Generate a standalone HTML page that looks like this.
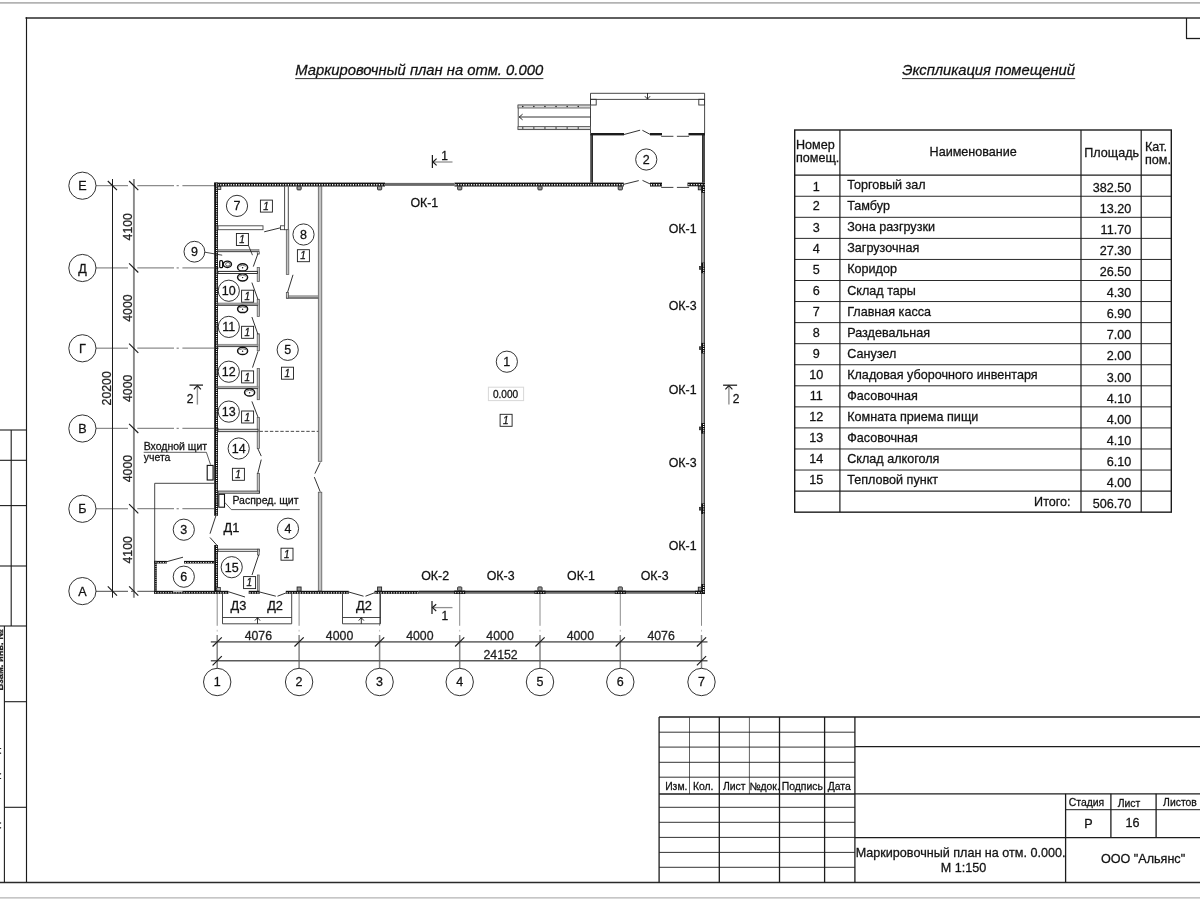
<!DOCTYPE html>
<html><head><meta charset="utf-8"><title>Маркировочный план</title>
<style>
html,body{margin:0;padding:0;background:#fff;}
body{width:1200px;height:900px;overflow:hidden;font-family:"Liberation Sans",sans-serif;}
svg{display:block;font-family:"Liberation Sans",sans-serif;will-change:transform;}
text{stroke:#222;stroke-width:0.28px;paint-order:stroke fill;}
</style></head><body>
<svg width="1200" height="900" viewBox="0 0 1200 900">
<rect x="0" y="0" width="1200" height="900" fill="#ffffff"/>
<line x1="0.00" y1="2.80" x2="1200.00" y2="2.80" stroke="#b3b3b3" stroke-width="1.7" />
<line x1="0.00" y1="897.80" x2="1200.00" y2="897.80" stroke="#b3b3b3" stroke-width="1.3" />
<line x1="25.50" y1="18.00" x2="1200.00" y2="18.00" stroke="#2a2a2a" stroke-width="1.6" />
<line x1="26.50" y1="17.30" x2="26.50" y2="882.40" stroke="#1a1a1a" stroke-width="1.15" />
<line x1="0.00" y1="882.40" x2="1200.00" y2="882.40" stroke="#2a2a2a" stroke-width="1.5" />
<line x1="1186.50" y1="18.00" x2="1186.50" y2="38.50" stroke="#1c1c1c" stroke-width="1.2" />
<line x1="1186.00" y1="38.50" x2="1200.00" y2="38.50" stroke="#1c1c1c" stroke-width="1.3" />
<line x1="0.00" y1="430.00" x2="26.50" y2="430.00" stroke="#1c1c1c" stroke-width="1.1" />
<line x1="0.00" y1="460.30" x2="26.50" y2="460.30" stroke="#1c1c1c" stroke-width="1.1" />
<line x1="0.00" y1="505.60" x2="26.50" y2="505.60" stroke="#1c1c1c" stroke-width="1.1" />
<line x1="0.00" y1="566.00" x2="26.50" y2="566.00" stroke="#1c1c1c" stroke-width="1.1" />
<line x1="0.00" y1="626.00" x2="26.50" y2="626.00" stroke="#1c1c1c" stroke-width="1.1" />
<line x1="11.20" y1="430.00" x2="11.20" y2="626.00" stroke="#1c1c1c" stroke-width="1.1" />
<line x1="4.40" y1="626.00" x2="4.40" y2="882.40" stroke="#1c1c1c" stroke-width="1.1" />
<line x1="4.40" y1="701.70" x2="26.50" y2="701.70" stroke="#1c1c1c" stroke-width="1.1" />
<line x1="4.40" y1="807.30" x2="26.50" y2="807.30" stroke="#1c1c1c" stroke-width="1.1" />
<text transform="translate(2.8,660) rotate(-90)" font-size="9.3" font-weight="bold" text-anchor="middle" fill="#222">Взам. инв. №</text>
<text transform="translate(-0.6,762) rotate(-90)" font-size="10" text-anchor="middle" fill="#222">Подп. и дата</text>
<text transform="translate(-0.6,845) rotate(-90)" font-size="10" text-anchor="middle" fill="#222">Инв. № подл.</text>
<text x="988.60" y="75.20" font-size="14.75" text-anchor="middle" fill="#111" font-style="italic" >Экспликация помещений</text>
<line x1="902.00" y1="78.60" x2="1075.20" y2="78.60" stroke="#333" stroke-width="1" />
<line x1="794.70" y1="196.26" x2="1171.30" y2="196.26" stroke="#2a2a2a" stroke-width="1.0" />
<line x1="794.70" y1="217.32" x2="1171.30" y2="217.32" stroke="#2a2a2a" stroke-width="1.0" />
<line x1="794.70" y1="238.38" x2="1171.30" y2="238.38" stroke="#2a2a2a" stroke-width="1.0" />
<line x1="794.70" y1="259.44" x2="1171.30" y2="259.44" stroke="#2a2a2a" stroke-width="1.0" />
<line x1="794.70" y1="280.50" x2="1171.30" y2="280.50" stroke="#2a2a2a" stroke-width="1.0" />
<line x1="794.70" y1="301.56" x2="1171.30" y2="301.56" stroke="#2a2a2a" stroke-width="1.0" />
<line x1="794.70" y1="322.62" x2="1171.30" y2="322.62" stroke="#2a2a2a" stroke-width="1.0" />
<line x1="794.70" y1="343.68" x2="1171.30" y2="343.68" stroke="#2a2a2a" stroke-width="1.0" />
<line x1="794.70" y1="364.74" x2="1171.30" y2="364.74" stroke="#2a2a2a" stroke-width="1.0" />
<line x1="794.70" y1="385.80" x2="1171.30" y2="385.80" stroke="#2a2a2a" stroke-width="1.0" />
<line x1="794.70" y1="406.86" x2="1171.30" y2="406.86" stroke="#2a2a2a" stroke-width="1.0" />
<line x1="794.70" y1="427.92" x2="1171.30" y2="427.92" stroke="#2a2a2a" stroke-width="1.0" />
<line x1="794.70" y1="448.98" x2="1171.30" y2="448.98" stroke="#2a2a2a" stroke-width="1.0" />
<line x1="794.70" y1="470.04" x2="1171.30" y2="470.04" stroke="#2a2a2a" stroke-width="1.0" />
<line x1="794.70" y1="491.10" x2="1171.30" y2="491.10" stroke="#2a2a2a" stroke-width="1.2" />
<line x1="794.70" y1="175.20" x2="1171.30" y2="175.20" stroke="#1c1c1c" stroke-width="1.3" />
<line x1="839.90" y1="130.00" x2="839.90" y2="512.16" stroke="#1c1c1c" stroke-width="1.2" />
<line x1="1081.00" y1="130.00" x2="1081.00" y2="512.16" stroke="#1c1c1c" stroke-width="1.2" />
<line x1="1141.20" y1="130.00" x2="1141.20" y2="512.16" stroke="#1c1c1c" stroke-width="1.2" />
<rect x="794.70" y="130.00" width="376.60" height="382.16" fill="none" stroke="#1c1c1c" stroke-width="1.4" />
<text x="796.00" y="148.60" font-size="12.6" text-anchor="start" fill="#111"  >Номер</text>
<text x="796.00" y="161.60" font-size="12.6" text-anchor="start" fill="#111"  >помещ.</text>
<text x="973.20" y="156.40" font-size="12.6" text-anchor="middle" fill="#111"  >Наименование</text>
<text x="1084.30" y="157.00" font-size="12.6" text-anchor="start" fill="#111"  >Площадь</text>
<text x="1145.00" y="151.40" font-size="12.6" text-anchor="start" fill="#111"  >Кат.</text>
<text x="1145.00" y="164.40" font-size="12.6" text-anchor="start" fill="#111"  >пом.</text>
<text x="816.20" y="190.70" font-size="12.6" text-anchor="middle" fill="#111"  >1</text>
<text x="847.20" y="189.20" font-size="12.6" text-anchor="start" fill="#111"  >Торговый зал</text>
<text x="1131.20" y="192.00" font-size="12.6" text-anchor="end" fill="#111"  >382.50</text>
<text x="816.20" y="210.46" font-size="12.6" text-anchor="middle" fill="#111"  >2</text>
<text x="847.20" y="210.26" font-size="12.6" text-anchor="start" fill="#111"  >Тамбур</text>
<text x="1131.20" y="213.06" font-size="12.6" text-anchor="end" fill="#111"  >13.20</text>
<text x="816.20" y="231.52" font-size="12.6" text-anchor="middle" fill="#111"  >3</text>
<text x="847.20" y="231.32" font-size="12.6" text-anchor="start" fill="#111"  >Зона разгрузки</text>
<text x="1131.20" y="234.12" font-size="12.6" text-anchor="end" fill="#111"  >11.70</text>
<text x="816.20" y="252.58" font-size="12.6" text-anchor="middle" fill="#111"  >4</text>
<text x="847.20" y="252.38" font-size="12.6" text-anchor="start" fill="#111"  >Загрузочная</text>
<text x="1131.20" y="255.18" font-size="12.6" text-anchor="end" fill="#111"  >27.30</text>
<text x="816.20" y="273.64" font-size="12.6" text-anchor="middle" fill="#111"  >5</text>
<text x="847.20" y="273.44" font-size="12.6" text-anchor="start" fill="#111"  >Коридор</text>
<text x="1131.20" y="276.24" font-size="12.6" text-anchor="end" fill="#111"  >26.50</text>
<text x="816.20" y="294.70" font-size="12.6" text-anchor="middle" fill="#111"  >6</text>
<text x="847.20" y="294.50" font-size="12.6" text-anchor="start" fill="#111"  >Склад тары</text>
<text x="1131.20" y="297.30" font-size="12.6" text-anchor="end" fill="#111"  >4.30</text>
<text x="816.20" y="315.76" font-size="12.6" text-anchor="middle" fill="#111"  >7</text>
<text x="847.20" y="315.56" font-size="12.6" text-anchor="start" fill="#111"  >Главная касса</text>
<text x="1131.20" y="318.36" font-size="12.6" text-anchor="end" fill="#111"  >6.90</text>
<text x="816.20" y="336.82" font-size="12.6" text-anchor="middle" fill="#111"  >8</text>
<text x="847.20" y="336.62" font-size="12.6" text-anchor="start" fill="#111"  >Раздевальная</text>
<text x="1131.20" y="339.42" font-size="12.6" text-anchor="end" fill="#111"  >7.00</text>
<text x="816.20" y="357.88" font-size="12.6" text-anchor="middle" fill="#111"  >9</text>
<text x="847.20" y="357.68" font-size="12.6" text-anchor="start" fill="#111"  >Санузел</text>
<text x="1131.20" y="360.48" font-size="12.6" text-anchor="end" fill="#111"  >2.00</text>
<text x="816.20" y="378.94" font-size="12.6" text-anchor="middle" fill="#111"  >10</text>
<text x="847.20" y="378.74" font-size="12.6" text-anchor="start" fill="#111"  >Кладовая уборочного инвентаря</text>
<text x="1131.20" y="381.54" font-size="12.6" text-anchor="end" fill="#111"  >3.00</text>
<text x="816.20" y="400.00" font-size="12.6" text-anchor="middle" fill="#111"  >11</text>
<text x="847.20" y="399.80" font-size="12.6" text-anchor="start" fill="#111"  >Фасовочная</text>
<text x="1131.20" y="402.60" font-size="12.6" text-anchor="end" fill="#111"  >4.10</text>
<text x="816.20" y="421.06" font-size="12.6" text-anchor="middle" fill="#111"  >12</text>
<text x="847.20" y="420.86" font-size="12.6" text-anchor="start" fill="#111"  >Комната приема пищи</text>
<text x="1131.20" y="423.66" font-size="12.6" text-anchor="end" fill="#111"  >4.00</text>
<text x="816.20" y="442.12" font-size="12.6" text-anchor="middle" fill="#111"  >13</text>
<text x="847.20" y="441.92" font-size="12.6" text-anchor="start" fill="#111"  >Фасовочная</text>
<text x="1131.20" y="444.72" font-size="12.6" text-anchor="end" fill="#111"  >4.10</text>
<text x="816.20" y="463.18" font-size="12.6" text-anchor="middle" fill="#111"  >14</text>
<text x="847.20" y="462.98" font-size="12.6" text-anchor="start" fill="#111"  >Склад алкоголя</text>
<text x="1131.20" y="465.78" font-size="12.6" text-anchor="end" fill="#111"  >6.10</text>
<text x="816.20" y="484.24" font-size="12.6" text-anchor="middle" fill="#111"  >15</text>
<text x="847.20" y="484.04" font-size="12.6" text-anchor="start" fill="#111"  >Тепловой пункт</text>
<text x="1131.20" y="486.84" font-size="12.6" text-anchor="end" fill="#111"  >4.00</text>
<text x="1070.60" y="505.70" font-size="12.6" text-anchor="end" fill="#111"  >Итого:</text>
<text x="1131.20" y="508.10" font-size="12.6" text-anchor="end" fill="#111"  >506.70</text>
<line x1="659.10" y1="717.00" x2="1200.00" y2="717.00" stroke="#1c1c1c" stroke-width="1.4" />
<line x1="659.10" y1="717.00" x2="659.10" y2="882.40" stroke="#1c1c1c" stroke-width="1.3" />
<line x1="689.50" y1="717.00" x2="689.50" y2="794.00" stroke="#3a3a3a" stroke-width="0.8" />
<line x1="719.30" y1="717.00" x2="719.30" y2="882.40" stroke="#1c1c1c" stroke-width="1.3" />
<line x1="749.40" y1="717.00" x2="749.40" y2="794.00" stroke="#3a3a3a" stroke-width="0.8" />
<line x1="779.50" y1="717.00" x2="779.50" y2="882.40" stroke="#1c1c1c" stroke-width="1.3" />
<line x1="824.60" y1="717.00" x2="824.60" y2="882.40" stroke="#1c1c1c" stroke-width="1.3" />
<line x1="854.90" y1="717.00" x2="854.90" y2="882.40" stroke="#1c1c1c" stroke-width="1.3" />
<line x1="659.10" y1="732.20" x2="854.90" y2="732.20" stroke="#1c1c1c" stroke-width="0.9" />
<line x1="659.10" y1="747.10" x2="854.90" y2="747.10" stroke="#1c1c1c" stroke-width="0.9" />
<line x1="659.10" y1="762.30" x2="854.90" y2="762.30" stroke="#1c1c1c" stroke-width="0.9" />
<line x1="659.10" y1="777.20" x2="854.90" y2="777.20" stroke="#1c1c1c" stroke-width="0.9" />
<line x1="659.10" y1="794.00" x2="854.90" y2="794.00" stroke="#1c1c1c" stroke-width="1.3" />
<line x1="659.10" y1="807.30" x2="854.90" y2="807.30" stroke="#1c1c1c" stroke-width="0.9" />
<line x1="659.10" y1="822.30" x2="854.90" y2="822.30" stroke="#1c1c1c" stroke-width="0.9" />
<line x1="659.10" y1="837.40" x2="854.90" y2="837.40" stroke="#1c1c1c" stroke-width="0.9" />
<line x1="659.10" y1="852.40" x2="854.90" y2="852.40" stroke="#1c1c1c" stroke-width="0.9" />
<line x1="659.10" y1="867.30" x2="854.90" y2="867.30" stroke="#1c1c1c" stroke-width="0.9" />
<line x1="854.90" y1="746.70" x2="1200.00" y2="746.70" stroke="#1c1c1c" stroke-width="1.3" />
<line x1="854.90" y1="793.80" x2="1200.00" y2="793.80" stroke="#1c1c1c" stroke-width="1.3" />
<line x1="854.90" y1="837.70" x2="1200.00" y2="837.70" stroke="#1c1c1c" stroke-width="1.3" />
<line x1="1065.60" y1="809.70" x2="1200.00" y2="809.70" stroke="#1c1c1c" stroke-width="1.0" />
<line x1="1065.60" y1="793.80" x2="1065.60" y2="882.40" stroke="#1c1c1c" stroke-width="1.3" />
<line x1="1110.90" y1="793.80" x2="1110.90" y2="837.70" stroke="#1c1c1c" stroke-width="1.3" />
<line x1="1156.10" y1="793.80" x2="1156.10" y2="837.70" stroke="#1c1c1c" stroke-width="1.3" />
<text x="676.30" y="789.80" font-size="10.4" text-anchor="middle" fill="#111"  >Изм.</text>
<text x="703.20" y="789.80" font-size="10.4" text-anchor="middle" fill="#111"  >Кол.</text>
<text x="734.30" y="789.80" font-size="10.4" text-anchor="middle" fill="#111"  >Лист</text>
<text x="764.60" y="789.80" font-size="10.4" text-anchor="middle" fill="#111"  >№док.</text>
<text x="802.30" y="790.20" font-size="10.4" text-anchor="middle" fill="#111"  >Подпись</text>
<text x="839.20" y="790.20" font-size="10.4" text-anchor="middle" fill="#111"  >Дата</text>
<text x="1086.50" y="806.00" font-size="10.4" text-anchor="middle" fill="#111"  >Стадия</text>
<text x="1129.00" y="806.60" font-size="10.4" text-anchor="middle" fill="#111"  >Лист</text>
<text x="1180.00" y="805.80" font-size="10.4" text-anchor="middle" fill="#111"  >Листов</text>
<text x="1088.50" y="827.60" font-size="12.6" text-anchor="middle" fill="#111"  >Р</text>
<text x="1132.50" y="827.20" font-size="12.6" text-anchor="middle" fill="#111"  >16</text>
<text x="960.60" y="857.00" font-size="12.6" text-anchor="middle" fill="#111"  >Маркировочный план на отм. 0.000.</text>
<text x="963.50" y="871.80" font-size="12.6" text-anchor="middle" fill="#111"  >М 1:150</text>
<text x="1143.00" y="862.60" font-size="12.6" text-anchor="middle" fill="#111"  >ООО "Альянс"</text>
<text x="419.20" y="75.20" font-size="14.8" text-anchor="middle" fill="#111" font-style="italic" >Маркировочный план на отм. 0.000</text>
<line x1="295.20" y1="78.60" x2="543.40" y2="78.60" stroke="#333" stroke-width="1" />
<line x1="96.00" y1="185.60" x2="128.00" y2="185.60" stroke="#8c8c8c" stroke-width="1.25" />
<line x1="137.30" y1="185.60" x2="174.00" y2="185.60" stroke="#8c8c8c" stroke-width="1.25" />
<line x1="176.60" y1="185.60" x2="178.80" y2="185.60" stroke="#8c8c8c" stroke-width="1.25" />
<line x1="182.40" y1="185.60" x2="214.20" y2="185.60" stroke="#8c8c8c" stroke-width="1.25" />
<circle cx="82.40" cy="185.70" r="13.60" fill="none" stroke="#1c1c1c" stroke-width="0.9"/>
<text x="82.40" y="190.20" font-size="12.6" text-anchor="middle" fill="#111"  >Е</text>
<line x1="96.00" y1="267.90" x2="128.00" y2="267.90" stroke="#8c8c8c" stroke-width="1.25" />
<line x1="137.30" y1="267.90" x2="174.00" y2="267.90" stroke="#8c8c8c" stroke-width="1.25" />
<line x1="176.60" y1="267.90" x2="178.80" y2="267.90" stroke="#8c8c8c" stroke-width="1.25" />
<line x1="182.40" y1="267.90" x2="214.20" y2="267.90" stroke="#8c8c8c" stroke-width="1.25" />
<circle cx="82.40" cy="268.00" r="13.60" fill="none" stroke="#1c1c1c" stroke-width="0.9"/>
<text x="82.40" y="272.50" font-size="12.6" text-anchor="middle" fill="#111"  >Д</text>
<line x1="96.00" y1="348.20" x2="128.00" y2="348.20" stroke="#8c8c8c" stroke-width="1.25" />
<line x1="137.30" y1="348.20" x2="174.00" y2="348.20" stroke="#8c8c8c" stroke-width="1.25" />
<line x1="176.60" y1="348.20" x2="178.80" y2="348.20" stroke="#8c8c8c" stroke-width="1.25" />
<line x1="182.40" y1="348.20" x2="214.20" y2="348.20" stroke="#8c8c8c" stroke-width="1.25" />
<circle cx="82.40" cy="348.30" r="13.60" fill="none" stroke="#1c1c1c" stroke-width="0.9"/>
<text x="82.40" y="352.80" font-size="12.6" text-anchor="middle" fill="#111"  >Г</text>
<line x1="96.00" y1="428.40" x2="128.00" y2="428.40" stroke="#8c8c8c" stroke-width="1.25" />
<line x1="137.30" y1="428.40" x2="174.00" y2="428.40" stroke="#8c8c8c" stroke-width="1.25" />
<line x1="176.60" y1="428.40" x2="178.80" y2="428.40" stroke="#8c8c8c" stroke-width="1.25" />
<line x1="182.40" y1="428.40" x2="214.20" y2="428.40" stroke="#8c8c8c" stroke-width="1.25" />
<circle cx="82.40" cy="428.50" r="13.60" fill="none" stroke="#1c1c1c" stroke-width="0.9"/>
<text x="82.40" y="433.00" font-size="12.6" text-anchor="middle" fill="#111"  >В</text>
<line x1="96.00" y1="508.70" x2="128.00" y2="508.70" stroke="#8c8c8c" stroke-width="1.25" />
<line x1="137.30" y1="508.70" x2="174.00" y2="508.70" stroke="#8c8c8c" stroke-width="1.25" />
<line x1="176.60" y1="508.70" x2="178.80" y2="508.70" stroke="#8c8c8c" stroke-width="1.25" />
<line x1="182.40" y1="508.70" x2="214.20" y2="508.70" stroke="#8c8c8c" stroke-width="1.25" />
<circle cx="82.40" cy="508.80" r="13.60" fill="none" stroke="#1c1c1c" stroke-width="0.9"/>
<text x="82.40" y="513.30" font-size="12.6" text-anchor="middle" fill="#111"  >Б</text>
<line x1="96.00" y1="591.30" x2="128.00" y2="591.30" stroke="#4a4a4a" stroke-width="1.0" />
<line x1="131.00" y1="591.30" x2="135.00" y2="591.30" stroke="#4a4a4a" stroke-width="1.0" />
<line x1="137.30" y1="591.30" x2="154.50" y2="591.30" stroke="#4a4a4a" stroke-width="1.0" />
<circle cx="82.40" cy="591.10" r="13.60" fill="none" stroke="#1c1c1c" stroke-width="0.9"/>
<text x="82.40" y="595.60" font-size="12.6" text-anchor="middle" fill="#111"  >А</text>
<line x1="112.50" y1="179.00" x2="112.50" y2="597.70" stroke="#1c1c1c" stroke-width="1.0" />
<line x1="133.90" y1="179.00" x2="133.90" y2="597.70" stroke="#8a8a8a" stroke-width="1.9" />
<line x1="129.10" y1="181.00" x2="138.30" y2="190.20" stroke="#1a1a1a" stroke-width="1.15" />
<line x1="129.10" y1="263.30" x2="138.30" y2="272.50" stroke="#1a1a1a" stroke-width="1.15" />
<line x1="129.10" y1="343.60" x2="138.30" y2="352.80" stroke="#1a1a1a" stroke-width="1.15" />
<line x1="129.10" y1="423.80" x2="138.30" y2="433.00" stroke="#1a1a1a" stroke-width="1.15" />
<line x1="129.10" y1="504.10" x2="138.30" y2="513.30" stroke="#1a1a1a" stroke-width="1.15" />
<line x1="129.10" y1="586.40" x2="138.30" y2="595.60" stroke="#1a1a1a" stroke-width="1.15" />
<line x1="107.80" y1="181.00" x2="117.00" y2="190.20" stroke="#1a1a1a" stroke-width="1.15" />
<line x1="107.80" y1="586.40" x2="117.00" y2="595.60" stroke="#1a1a1a" stroke-width="1.15" />
<text transform="translate(132.00,226.75) rotate(-90)" font-size="12.3" text-anchor="middle" fill="#222">4100</text>
<text transform="translate(132.00,308.05) rotate(-90)" font-size="12.3" text-anchor="middle" fill="#222">4000</text>
<text transform="translate(132.00,388.30) rotate(-90)" font-size="12.3" text-anchor="middle" fill="#222">4000</text>
<text transform="translate(132.00,468.55) rotate(-90)" font-size="12.3" text-anchor="middle" fill="#222">4000</text>
<text transform="translate(132.00,549.85) rotate(-90)" font-size="12.3" text-anchor="middle" fill="#222">4100</text>
<text transform="translate(110.60,388.30) rotate(-90)" font-size="12.3" text-anchor="middle" fill="#222">20200</text>
<line x1="217.20" y1="594.00" x2="217.20" y2="625.80" stroke="#8c8c8c" stroke-width="1" />
<line x1="217.20" y1="629.80" x2="217.20" y2="631.60" stroke="#bbb" stroke-width="1" />
<line x1="217.20" y1="635.00" x2="217.20" y2="668.30" stroke="#858585" stroke-width="1.5" />
<circle cx="217.20" cy="682.00" r="13.70" fill="none" stroke="#1c1c1c" stroke-width="0.9"/>
<text x="217.20" y="686.00" font-size="12.5" text-anchor="middle" fill="#111"  >1</text>
<line x1="299.10" y1="594.00" x2="299.10" y2="625.80" stroke="#8c8c8c" stroke-width="1" />
<line x1="299.10" y1="629.80" x2="299.10" y2="631.60" stroke="#bbb" stroke-width="1" />
<line x1="299.10" y1="635.00" x2="299.10" y2="668.30" stroke="#858585" stroke-width="1.5" />
<circle cx="299.10" cy="682.00" r="13.70" fill="none" stroke="#1c1c1c" stroke-width="0.9"/>
<text x="299.10" y="686.00" font-size="12.5" text-anchor="middle" fill="#111"  >2</text>
<line x1="379.60" y1="594.00" x2="379.60" y2="625.80" stroke="#8c8c8c" stroke-width="1" />
<line x1="379.60" y1="629.80" x2="379.60" y2="631.60" stroke="#bbb" stroke-width="1" />
<line x1="379.60" y1="635.00" x2="379.60" y2="668.30" stroke="#858585" stroke-width="1.5" />
<circle cx="379.60" cy="682.00" r="13.70" fill="none" stroke="#1c1c1c" stroke-width="0.9"/>
<text x="379.60" y="686.00" font-size="12.5" text-anchor="middle" fill="#111"  >3</text>
<line x1="459.70" y1="594.00" x2="459.70" y2="625.80" stroke="#8c8c8c" stroke-width="1" />
<line x1="459.70" y1="629.80" x2="459.70" y2="631.60" stroke="#bbb" stroke-width="1" />
<line x1="459.70" y1="635.00" x2="459.70" y2="668.30" stroke="#858585" stroke-width="1.5" />
<circle cx="459.70" cy="682.00" r="13.70" fill="none" stroke="#1c1c1c" stroke-width="0.9"/>
<text x="459.70" y="686.00" font-size="12.5" text-anchor="middle" fill="#111"  >4</text>
<line x1="540.00" y1="594.00" x2="540.00" y2="625.80" stroke="#8c8c8c" stroke-width="1" />
<line x1="540.00" y1="629.80" x2="540.00" y2="631.60" stroke="#bbb" stroke-width="1" />
<line x1="540.00" y1="635.00" x2="540.00" y2="668.30" stroke="#858585" stroke-width="1.5" />
<circle cx="540.00" cy="682.00" r="13.70" fill="none" stroke="#1c1c1c" stroke-width="0.9"/>
<text x="540.00" y="686.00" font-size="12.5" text-anchor="middle" fill="#111"  >5</text>
<line x1="620.30" y1="594.00" x2="620.30" y2="625.80" stroke="#8c8c8c" stroke-width="1" />
<line x1="620.30" y1="629.80" x2="620.30" y2="631.60" stroke="#bbb" stroke-width="1" />
<line x1="620.30" y1="635.00" x2="620.30" y2="668.30" stroke="#858585" stroke-width="1.5" />
<circle cx="620.30" cy="682.00" r="13.70" fill="none" stroke="#1c1c1c" stroke-width="0.9"/>
<text x="620.30" y="686.00" font-size="12.5" text-anchor="middle" fill="#111"  >6</text>
<line x1="701.50" y1="594.00" x2="701.50" y2="625.80" stroke="#8c8c8c" stroke-width="1" />
<line x1="701.50" y1="629.80" x2="701.50" y2="631.60" stroke="#bbb" stroke-width="1" />
<line x1="701.50" y1="635.00" x2="701.50" y2="668.30" stroke="#858585" stroke-width="1.5" />
<circle cx="701.50" cy="682.00" r="13.70" fill="none" stroke="#1c1c1c" stroke-width="0.9"/>
<text x="701.50" y="686.00" font-size="12.5" text-anchor="middle" fill="#111"  >7</text>
<line x1="210.80" y1="641.90" x2="707.50" y2="641.90" stroke="#767676" stroke-width="1.8" />
<line x1="210.80" y1="660.70" x2="707.50" y2="660.70" stroke="#5a5a5a" stroke-width="1.4" />
<line x1="212.60" y1="646.50" x2="221.80" y2="637.30" stroke="#1a1a1a" stroke-width="1.15" />
<line x1="294.50" y1="646.50" x2="303.70" y2="637.30" stroke="#1a1a1a" stroke-width="1.15" />
<line x1="375.00" y1="646.50" x2="384.20" y2="637.30" stroke="#1a1a1a" stroke-width="1.15" />
<line x1="455.10" y1="646.50" x2="464.30" y2="637.30" stroke="#1a1a1a" stroke-width="1.15" />
<line x1="535.40" y1="646.50" x2="544.60" y2="637.30" stroke="#1a1a1a" stroke-width="1.15" />
<line x1="615.70" y1="646.50" x2="624.90" y2="637.30" stroke="#1a1a1a" stroke-width="1.15" />
<line x1="696.90" y1="646.50" x2="706.10" y2="637.30" stroke="#1a1a1a" stroke-width="1.15" />
<line x1="212.60" y1="665.30" x2="221.80" y2="656.10" stroke="#1a1a1a" stroke-width="1.15" />
<line x1="696.90" y1="665.30" x2="706.10" y2="656.10" stroke="#1a1a1a" stroke-width="1.15" />
<text x="258.35" y="639.80" font-size="12.3" text-anchor="middle" fill="#222"  >4076</text>
<text x="339.55" y="639.80" font-size="12.3" text-anchor="middle" fill="#222"  >4000</text>
<text x="419.85" y="639.80" font-size="12.3" text-anchor="middle" fill="#222"  >4000</text>
<text x="500.05" y="639.80" font-size="12.3" text-anchor="middle" fill="#222"  >4000</text>
<text x="580.35" y="639.80" font-size="12.3" text-anchor="middle" fill="#222"  >4000</text>
<text x="661.10" y="639.80" font-size="12.3" text-anchor="middle" fill="#222"  >4076</text>
<text x="500.60" y="659.00" font-size="12.3" text-anchor="middle" fill="#222"  >24152</text>
<line x1="154.70" y1="483.30" x2="214.20" y2="483.30" stroke="#333" stroke-width="0.9" />
<line x1="154.70" y1="483.30" x2="154.70" y2="561.00" stroke="#333" stroke-width="0.9" />
<rect x="154.20" y="560.90" width="12.70" height="2.60" fill="#111" stroke="none" stroke-width="0" />
<line x1="155.00" y1="562.65" x2="166.40" y2="562.65" stroke="#fff" stroke-width="1.0" stroke-dasharray="1.2 1.4"/>
<rect x="184.00" y="560.90" width="30.20" height="2.60" fill="#111" stroke="none" stroke-width="0" />
<line x1="184.80" y1="562.65" x2="213.70" y2="562.65" stroke="#fff" stroke-width="1.0" stroke-dasharray="1.2 1.4"/>
<rect x="154.20" y="560.90" width="2.60" height="32.80" fill="#111" stroke="none" stroke-width="0" />
<line x1="155.95" y1="561.70" x2="155.95" y2="593.20" stroke="#fff" stroke-width="1.0" stroke-dasharray="1.0 1.15"/>
<rect x="154.20" y="590.80" width="60.00" height="3.00" fill="#111" stroke="none" stroke-width="0" />
<line x1="155.00" y1="592.75" x2="213.70" y2="592.75" stroke="#fff" stroke-width="1.15" stroke-dasharray="1.2 1.4"/>
<rect x="173.20" y="590.80" width="9.20" height="1.30" fill="#fff" stroke="none" stroke-width="0" />
<line x1="173.20" y1="591.90" x2="182.40" y2="591.90" stroke="#333" stroke-width="0.7" />
<line x1="166.70" y1="561.70" x2="183.00" y2="557.20" stroke="#1c1c1c" stroke-width="0.9" />
<rect x="214.20" y="182.60" width="170.80" height="3.90" fill="#111" stroke="none" stroke-width="0" />
<line x1="215.00" y1="184.75" x2="384.50" y2="184.75" stroke="#fff" stroke-width="1.3" stroke-dasharray="1.2 1.4"/>
<rect x="454.50" y="182.60" width="169.25" height="3.90" fill="#111" stroke="none" stroke-width="0" />
<line x1="455.30" y1="184.75" x2="623.25" y2="184.75" stroke="#fff" stroke-width="1.3" stroke-dasharray="1.2 1.4"/>
<rect x="650.00" y="182.60" width="12.00" height="3.90" fill="#111" stroke="none" stroke-width="0" />
<line x1="650.80" y1="184.75" x2="661.50" y2="184.75" stroke="#fff" stroke-width="1.3" stroke-dasharray="1.2 1.4"/>
<rect x="687.50" y="182.60" width="17.50" height="3.70" fill="#111" stroke="none" stroke-width="0" />
<line x1="688.30" y1="184.65" x2="704.50" y2="184.65" stroke="#fff" stroke-width="1.3" stroke-dasharray="1.2 1.4"/>
<rect x="385.00" y="182.90" width="69.20" height="3.00" fill="#6a6a6a" stroke="none" stroke-width="0" />
<rect x="214.20" y="182.60" width="3.80" height="333.20" fill="#111" stroke="none" stroke-width="0" />
<line x1="216.60" y1="183.40" x2="216.60" y2="515.30" stroke="#fff" stroke-width="1.2" stroke-dasharray="1.0 1.15"/>
<rect x="214.20" y="545.00" width="3.80" height="48.80" fill="#111" stroke="none" stroke-width="0" />
<line x1="216.60" y1="545.80" x2="216.60" y2="593.30" stroke="#fff" stroke-width="1.2" stroke-dasharray="1.0 1.15"/>
<rect x="214.20" y="590.80" width="14.10" height="3.10" fill="#111" stroke="none" stroke-width="0" />
<line x1="215.00" y1="592.80" x2="227.80" y2="592.80" stroke="#fff" stroke-width="1.15" stroke-dasharray="1.2 1.4"/>
<rect x="248.70" y="590.80" width="11.00" height="3.10" fill="#111" stroke="none" stroke-width="0" />
<line x1="249.50" y1="592.80" x2="259.20" y2="592.80" stroke="#fff" stroke-width="1.15" stroke-dasharray="1.2 1.4"/>
<rect x="285.80" y="590.80" width="62.95" height="3.10" fill="#111" stroke="none" stroke-width="0" />
<line x1="286.60" y1="592.80" x2="348.25" y2="592.80" stroke="#fff" stroke-width="1.15" stroke-dasharray="1.2 1.4"/>
<rect x="374.50" y="590.80" width="44.25" height="3.10" fill="#111" stroke="none" stroke-width="0" />
<line x1="375.30" y1="592.80" x2="418.25" y2="592.80" stroke="#fff" stroke-width="1.15" stroke-dasharray="1.2 1.4"/>
<rect x="418.75" y="590.80" width="285.75" height="3.00" fill="#6e6e6e" stroke="none" stroke-width="0" />
<line x1="418.75" y1="591.40" x2="704.50" y2="591.40" stroke="#2a2a2a" stroke-width="1.3" />
<rect x="701.30" y="186.00" width="3.50" height="407.80" fill="#9c9c9c" stroke="none" stroke-width="0" />
<line x1="701.50" y1="186.00" x2="701.50" y2="593.00" stroke="#444" stroke-width="0.8" />
<line x1="704.50" y1="186.00" x2="704.50" y2="593.80" stroke="#3c3c3c" stroke-width="0.9" />
<rect x="297.00" y="186.20" width="4.20" height="3.70" fill="#999" stroke="#222" stroke-width="0.9" rx="0.8"/>
<rect x="377.50" y="186.20" width="4.20" height="3.70" fill="#999" stroke="#222" stroke-width="0.9" rx="0.8"/>
<rect x="457.60" y="186.20" width="4.20" height="3.70" fill="#999" stroke="#222" stroke-width="0.9" rx="0.8"/>
<rect x="537.90" y="186.20" width="4.20" height="3.70" fill="#999" stroke="#222" stroke-width="0.9" rx="0.8"/>
<rect x="618.20" y="186.20" width="4.20" height="3.70" fill="#999" stroke="#222" stroke-width="0.9" rx="0.8"/>
<rect x="217.60" y="186.40" width="3.20" height="3.00" fill="#bbb" stroke="#222" stroke-width="0.8" />
<rect x="454.20" y="590.60" width="11.00" height="3.40" fill="#111" stroke="none" stroke-width="0" />
<line x1="455.00" y1="592.75" x2="464.70" y2="592.75" stroke="#fff" stroke-width="1.15" stroke-dasharray="1.2 1.4"/>
<rect x="457.60" y="586.90" width="4.20" height="3.80" fill="#999" stroke="#222" stroke-width="0.9" rx="0.8"/>
<rect x="534.50" y="590.60" width="11.00" height="3.40" fill="#111" stroke="none" stroke-width="0" />
<line x1="535.30" y1="592.75" x2="545.00" y2="592.75" stroke="#fff" stroke-width="1.15" stroke-dasharray="1.2 1.4"/>
<rect x="537.90" y="586.90" width="4.20" height="3.80" fill="#999" stroke="#222" stroke-width="0.9" rx="0.8"/>
<rect x="614.80" y="590.60" width="11.00" height="3.40" fill="#111" stroke="none" stroke-width="0" />
<line x1="615.60" y1="592.75" x2="625.30" y2="592.75" stroke="#fff" stroke-width="1.15" stroke-dasharray="1.2 1.4"/>
<rect x="618.20" y="586.90" width="4.20" height="3.80" fill="#999" stroke="#222" stroke-width="0.9" rx="0.8"/>
<rect x="297.10" y="587.00" width="4.00" height="4.00" fill="#999" stroke="#222" stroke-width="0.9" />
<rect x="377.60" y="587.00" width="4.00" height="4.00" fill="#999" stroke="#222" stroke-width="0.9" />
<rect x="216.80" y="587.50" width="3.50" height="3.30" fill="#bbb" stroke="#222" stroke-width="0.8" />
<rect x="701.30" y="262.60" width="3.60" height="10.60" fill="#111" stroke="none" stroke-width="0" />
<line x1="703.60" y1="263.40" x2="703.60" y2="272.70" stroke="#fff" stroke-width="1.2" stroke-dasharray="1.0 1.15"/>
<rect x="699.40" y="266.50" width="2.10" height="2.80" fill="#555" stroke="#222" stroke-width="0.7" />
<rect x="701.30" y="342.90" width="3.60" height="10.60" fill="#111" stroke="none" stroke-width="0" />
<line x1="703.60" y1="343.70" x2="703.60" y2="353.00" stroke="#fff" stroke-width="1.2" stroke-dasharray="1.0 1.15"/>
<rect x="699.40" y="346.80" width="2.10" height="2.80" fill="#555" stroke="#222" stroke-width="0.7" />
<rect x="701.30" y="423.10" width="3.60" height="10.60" fill="#111" stroke="none" stroke-width="0" />
<line x1="703.60" y1="423.90" x2="703.60" y2="433.20" stroke="#fff" stroke-width="1.2" stroke-dasharray="1.0 1.15"/>
<rect x="699.40" y="427.00" width="2.10" height="2.80" fill="#555" stroke="#222" stroke-width="0.7" />
<rect x="701.30" y="503.40" width="3.60" height="10.60" fill="#111" stroke="none" stroke-width="0" />
<line x1="703.60" y1="504.20" x2="703.60" y2="513.50" stroke="#fff" stroke-width="1.2" stroke-dasharray="1.0 1.15"/>
<rect x="699.40" y="507.30" width="2.10" height="2.80" fill="#555" stroke="#222" stroke-width="0.7" />
<rect x="701.40" y="186.00" width="3.60" height="6.80" fill="#111" stroke="none" stroke-width="0" />
<line x1="703.70" y1="186.80" x2="703.70" y2="192.30" stroke="#fff" stroke-width="1.2" stroke-dasharray="1.0 1.15"/>
<rect x="698.30" y="186.20" width="3.20" height="3.60" fill="#999" stroke="#222" stroke-width="0.9" />
<rect x="695.00" y="590.80" width="9.90" height="3.20" fill="#111" stroke="none" stroke-width="0" />
<line x1="695.80" y1="592.60" x2="704.40" y2="592.60" stroke="#fff" stroke-width="1.3" stroke-dasharray="1.2 1.4"/>
<rect x="701.40" y="584.00" width="3.50" height="10.00" fill="#111" stroke="none" stroke-width="0" />
<line x1="703.65" y1="584.80" x2="703.65" y2="593.50" stroke="#fff" stroke-width="1.2" stroke-dasharray="1.0 1.15"/>
<rect x="698.30" y="587.20" width="3.20" height="3.70" fill="#999" stroke="#222" stroke-width="0.9" />
<circle cx="217.40" cy="268.00" r="1.10" fill="#111" stroke="none" stroke-width="0"/>
<circle cx="217.40" cy="348.30" r="1.10" fill="#111" stroke="none" stroke-width="0"/>
<circle cx="217.40" cy="428.50" r="1.10" fill="#111" stroke="none" stroke-width="0"/>
<rect x="318.30" y="186.40" width="3.50" height="274.90" fill="#c2c2c2" stroke="#555" stroke-width="0.75" />
<rect x="318.30" y="492.20" width="3.50" height="98.60" fill="#c2c2c2" stroke="#555" stroke-width="0.75" />
<line x1="320.20" y1="462.50" x2="314.90" y2="473.60" stroke="#1c1c1c" stroke-width="0.9" />
<line x1="314.30" y1="477.10" x2="320.20" y2="491.70" stroke="#1c1c1c" stroke-width="0.9" />
<line x1="284.60" y1="186.40" x2="284.60" y2="225.80" stroke="#333" stroke-width="0.9" />
<line x1="288.30" y1="186.40" x2="288.30" y2="229.70" stroke="#333" stroke-width="0.9" />
<rect x="280.50" y="225.80" width="4.10" height="3.90" fill="#fff" stroke="#333" stroke-width="0.8" />
<line x1="284.60" y1="229.70" x2="288.30" y2="229.70" stroke="#333" stroke-width="0.8" />
<rect x="286.30" y="229.70" width="2.50" height="44.70" fill="#c2c2c2" stroke="#555" stroke-width="0.75" />
<rect x="218.00" y="225.80" width="45.00" height="3.90" fill="#fff" stroke="#444" stroke-width="0.9" />
<line x1="264.20" y1="231.80" x2="280.50" y2="227.80" stroke="#1c1c1c" stroke-width="0.9" />
<line x1="293.00" y1="274.80" x2="287.50" y2="292.50" stroke="#1c1c1c" stroke-width="0.9" />
<rect x="286.30" y="295.80" width="32.00" height="2.30" fill="#ababab" stroke="#777" stroke-width="0.6" />
<line x1="286.30" y1="298.10" x2="318.30" y2="298.10" stroke="#333" stroke-width="0.8" />
<rect x="286.30" y="292.50" width="2.30" height="5.60" fill="#ccc" stroke="#444" stroke-width="0.7" />
<rect x="218.00" y="249.30" width="41.00" height="2.40" fill="#ababab" stroke="#777" stroke-width="0.6" />
<line x1="218.00" y1="251.70" x2="259.00" y2="251.70" stroke="#333" stroke-width="0.8" />
<rect x="257.20" y="251.70" width="2.30" height="2.40" fill="#ccc" stroke="#444" stroke-width="0.6" />
<line x1="258.00" y1="253.40" x2="253.30" y2="266.60" stroke="#1c1c1c" stroke-width="0.9" />
<line x1="248.40" y1="245.30" x2="252.50" y2="255.20" stroke="#1c1c1c" stroke-width="0.8" />
<rect x="218.00" y="271.40" width="39.40" height="2.10" fill="#fff" stroke="#2a2a2a" stroke-width="0.9" />
<rect x="257.20" y="267.40" width="2.30" height="14.00" fill="#c2c2c2" stroke="#555" stroke-width="0.75" />
<rect x="257.20" y="299.30" width="2.30" height="17.10" fill="#c2c2c2" stroke="#555" stroke-width="0.75" />
<rect x="257.20" y="333.75" width="2.30" height="16.95" fill="#c2c2c2" stroke="#555" stroke-width="0.75" />
<rect x="257.20" y="368.40" width="2.30" height="31.30" fill="#c2c2c2" stroke="#555" stroke-width="0.75" />
<rect x="257.20" y="417.60" width="2.30" height="30.90" fill="#c2c2c2" stroke="#555" stroke-width="0.75" />
<rect x="257.20" y="473.60" width="2.30" height="19.50" fill="#c2c2c2" stroke="#555" stroke-width="0.75" />
<rect x="218.00" y="303.00" width="40.00" height="2.30" fill="#ababab" stroke="#777" stroke-width="0.6" />
<line x1="218.00" y1="305.30" x2="258.00" y2="305.30" stroke="#333" stroke-width="0.8" />
<rect x="218.00" y="344.25" width="40.00" height="2.35" fill="#ababab" stroke="#777" stroke-width="0.6" />
<line x1="218.00" y1="346.60" x2="258.00" y2="346.60" stroke="#333" stroke-width="0.8" />
<rect x="218.00" y="386.25" width="40.00" height="2.35" fill="#ababab" stroke="#777" stroke-width="0.6" />
<line x1="218.00" y1="388.60" x2="258.00" y2="388.60" stroke="#333" stroke-width="0.8" />
<rect x="218.00" y="429.25" width="40.00" height="2.40" fill="#ddd" stroke="#333" stroke-width="0.9" />
<rect x="218.00" y="491.10" width="41.50" height="2.10" fill="#ddd" stroke="#333" stroke-width="0.9" />
<line x1="251.90" y1="282.60" x2="258.00" y2="299.50" stroke="#1c1c1c" stroke-width="0.9" />
<line x1="251.90" y1="317.00" x2="258.00" y2="334.50" stroke="#1c1c1c" stroke-width="0.9" />
<line x1="258.00" y1="351.25" x2="252.50" y2="367.60" stroke="#1c1c1c" stroke-width="0.9" />
<line x1="251.90" y1="401.40" x2="258.00" y2="417.20" stroke="#1c1c1c" stroke-width="0.9" />
<line x1="257.75" y1="448.50" x2="261.25" y2="456.10" stroke="#1c1c1c" stroke-width="0.9" />
<line x1="261.25" y1="459.60" x2="257.75" y2="473.60" stroke="#1c1c1c" stroke-width="0.9" />
<line x1="259.50" y1="431.35" x2="318.30" y2="431.35" stroke="#333" stroke-width="0.9" stroke-dasharray="3.4 1.8"/>
<ellipse cx="242.6" cy="267.4" rx="5.0" ry="3.6" fill="#fff" stroke="#111" stroke-width="1.5"/>
<path d="M239.2,266.2 Q242.6,264.2 246.0,266.2" fill="none" stroke="#555" stroke-width="0.8"/>
<circle cx="242.60" cy="267.70" r="0.70" fill="#111" stroke="none" stroke-width="0"/>
<ellipse cx="242.6" cy="277.3" rx="5.0" ry="3.6" fill="#fff" stroke="#111" stroke-width="1.5"/>
<path d="M239.2,276.1 Q242.6,274.1 246.0,276.1" fill="none" stroke="#555" stroke-width="0.8"/>
<circle cx="242.60" cy="277.60" r="0.70" fill="#111" stroke="none" stroke-width="0"/>
<ellipse cx="242.6" cy="309" rx="5.0" ry="3.6" fill="#fff" stroke="#111" stroke-width="1.5"/>
<path d="M239.2,307.8 Q242.6,305.8 246.0,307.8" fill="none" stroke="#555" stroke-width="0.8"/>
<circle cx="242.60" cy="309.30" r="0.70" fill="#111" stroke="none" stroke-width="0"/>
<ellipse cx="242.6" cy="350.9" rx="5.0" ry="3.6" fill="#fff" stroke="#111" stroke-width="1.5"/>
<path d="M239.2,349.7 Q242.6,347.7 246.0,349.7" fill="none" stroke="#555" stroke-width="0.8"/>
<circle cx="242.60" cy="351.20" r="0.70" fill="#111" stroke="none" stroke-width="0"/>
<ellipse cx="249.6" cy="392.4" rx="5.0" ry="3.6" fill="#fff" stroke="#111" stroke-width="1.5"/>
<path d="M246.2,391.2 Q249.6,389.2 253.0,391.2" fill="none" stroke="#555" stroke-width="0.8"/>
<circle cx="249.60" cy="392.70" r="0.70" fill="#111" stroke="none" stroke-width="0"/>
<rect x="218.00" y="271.40" width="39.40" height="2.10" fill="#fff" stroke="#2a2a2a" stroke-width="0.9" />
<rect x="219.70" y="260.70" width="2.90" height="7.00" fill="#fff" stroke="#111" stroke-width="1.2" rx="1"/>
<ellipse cx="227.4" cy="264.3" rx="4.1" ry="3.2" fill="#fff" stroke="#111" stroke-width="1.35"/>
<ellipse cx="227.9" cy="264.3" rx="2.3" ry="1.8" fill="#fff" stroke="#333" stroke-width="0.8"/>
<line x1="222.40" y1="262.60" x2="224.20" y2="262.60" stroke="#111" stroke-width="0.8" />
<line x1="222.40" y1="266.00" x2="224.20" y2="266.00" stroke="#111" stroke-width="0.8" />
<rect x="218.00" y="549.20" width="41.20" height="2.10" fill="#fff" stroke="#333" stroke-width="0.9" />
<rect x="257.50" y="549.20" width="1.70" height="5.80" fill="#ccc" stroke="#444" stroke-width="0.7" />
<line x1="258.70" y1="555.00" x2="252.00" y2="575.00" stroke="#1c1c1c" stroke-width="0.9" />
<rect x="257.50" y="575.00" width="1.70" height="15.80" fill="#c2c2c2" stroke="#555" stroke-width="0.75" />
<line x1="215.80" y1="516.00" x2="210.00" y2="533.70" stroke="#1c1c1c" stroke-width="0.9" />
<line x1="210.00" y1="537.50" x2="216.70" y2="545.00" stroke="#1c1c1c" stroke-width="0.9" />
<line x1="228.30" y1="591.70" x2="245.00" y2="597.00" stroke="#1c1c1c" stroke-width="0.9" />
<line x1="259.70" y1="592.00" x2="275.80" y2="596.20" stroke="#1c1c1c" stroke-width="0.9" />
<line x1="277.50" y1="596.20" x2="285.80" y2="593.00" stroke="#1c1c1c" stroke-width="0.9" />
<line x1="348.75" y1="592.00" x2="363.50" y2="596.20" stroke="#1c1c1c" stroke-width="0.9" />
<line x1="365.50" y1="596.20" x2="374.50" y2="592.80" stroke="#1c1c1c" stroke-width="0.9" />
<polyline points="222.50,594.00 222.50,623.80 291.70,623.80 291.70,594.00" fill="none" stroke="#333" stroke-width="0.9"/>
<line x1="222.50" y1="617.50" x2="291.70" y2="617.50" stroke="#333" stroke-width="0.9" />
<line x1="257.50" y1="623.80" x2="257.50" y2="617.70" stroke="#1c1c1c" stroke-width="0.9" />
<polyline points="254.90,620.60 257.50,617.70 260.10,620.60" fill="none" stroke="#1c1c1c" stroke-width="0.9"/>
<polyline points="342.50,594.00 342.50,623.80 380.50,623.80 380.50,594.00" fill="none" stroke="#333" stroke-width="0.9"/>
<line x1="342.50" y1="617.50" x2="380.50" y2="617.50" stroke="#333" stroke-width="0.9" />
<line x1="361.30" y1="623.80" x2="361.30" y2="617.70" stroke="#1c1c1c" stroke-width="0.9" />
<polyline points="358.70,620.60 361.30,617.70 363.90,620.60" fill="none" stroke="#1c1c1c" stroke-width="0.9"/>
<rect x="590.20" y="133.70" width="2.70" height="49.00" fill="#4a4a4a" stroke="none" stroke-width="0" />
<line x1="592.50" y1="133.70" x2="592.50" y2="182.60" stroke="#222" stroke-width="0.8" />
<rect x="702.20" y="133.70" width="2.80" height="49.00" fill="#4a4a4a" stroke="none" stroke-width="0" />
<line x1="702.50" y1="133.70" x2="702.50" y2="182.60" stroke="#222" stroke-width="0.8" />
<rect x="590.40" y="133.00" width="33.60" height="2.40" fill="#1c1c1c" stroke="none" stroke-width="0" />
<rect x="650.00" y="133.00" width="12.00" height="2.40" fill="#1c1c1c" stroke="none" stroke-width="0" />
<rect x="688.50" y="133.00" width="16.50" height="2.40" fill="#1c1c1c" stroke="none" stroke-width="0" />
<line x1="661.20" y1="136.30" x2="689.20" y2="136.30" stroke="#2a2a2a" stroke-width="0.9" stroke-dasharray="12.2 3.5"/>
<line x1="661.20" y1="187.40" x2="689.20" y2="187.40" stroke="#2a2a2a" stroke-width="0.9" stroke-dasharray="12.2 3.5"/>
<line x1="624.00" y1="134.50" x2="640.10" y2="130.20" stroke="#1c1c1c" stroke-width="0.9" />
<line x1="642.40" y1="130.30" x2="650.00" y2="134.30" stroke="#1c1c1c" stroke-width="0.9" />
<line x1="623.75" y1="184.30" x2="638.75" y2="180.60" stroke="#1c1c1c" stroke-width="0.9" />
<line x1="642.50" y1="180.40" x2="650.00" y2="183.90" stroke="#1c1c1c" stroke-width="0.9" />
<polyline points="590.50,133.20 590.50,93.30 704.60,93.30 704.60,133.20" fill="none" stroke="#333" stroke-width="0.9"/>
<line x1="590.50" y1="99.40" x2="704.60" y2="99.40" stroke="#333" stroke-width="0.9" />
<rect x="590.50" y="99.30" width="5.70" height="5.70" fill="none" stroke="#333" stroke-width="0.9" />
<rect x="698.80" y="99.30" width="5.70" height="5.70" fill="none" stroke="#333" stroke-width="0.9" />
<line x1="647.50" y1="93.00" x2="647.50" y2="99.00" stroke="#1c1c1c" stroke-width="0.9" />
<polyline points="644.90,96.20 647.50,99.10 650.10,96.20" fill="none" stroke="#1c1c1c" stroke-width="0.9"/>
<rect x="518.20" y="105.20" width="72.30" height="24.40" fill="none" stroke="#444" stroke-width="0.9" />
<rect x="518.00" y="105.00" width="72.50" height="3.00" fill="#d8d8d8" stroke="#4a4a4a" stroke-width="0.8" />
<rect x="518.00" y="126.60" width="72.50" height="2.90" fill="#d8d8d8" stroke="#4a4a4a" stroke-width="0.8" />
<circle cx="522.75" cy="106.50" r="0.80" fill="#222" stroke="none" stroke-width="0"/>
<circle cx="522.75" cy="128.00" r="0.80" fill="#222" stroke="none" stroke-width="0"/>
<circle cx="533.85" cy="106.50" r="0.80" fill="#222" stroke="none" stroke-width="0"/>
<circle cx="533.85" cy="128.00" r="0.80" fill="#222" stroke="none" stroke-width="0"/>
<circle cx="544.95" cy="106.50" r="0.80" fill="#222" stroke="none" stroke-width="0"/>
<circle cx="544.95" cy="128.00" r="0.80" fill="#222" stroke="none" stroke-width="0"/>
<circle cx="556.05" cy="106.50" r="0.80" fill="#222" stroke="none" stroke-width="0"/>
<circle cx="556.05" cy="128.00" r="0.80" fill="#222" stroke="none" stroke-width="0"/>
<circle cx="567.15" cy="106.50" r="0.80" fill="#222" stroke="none" stroke-width="0"/>
<circle cx="567.15" cy="128.00" r="0.80" fill="#222" stroke="none" stroke-width="0"/>
<circle cx="578.25" cy="106.50" r="0.80" fill="#222" stroke="none" stroke-width="0"/>
<circle cx="578.25" cy="128.00" r="0.80" fill="#222" stroke="none" stroke-width="0"/>
<line x1="519.00" y1="117.00" x2="590.40" y2="117.00" stroke="#1c1c1c" stroke-width="0.9" />
<polyline points="522.60,114.20 519.20,117.00 522.60,119.80" fill="none" stroke="#1c1c1c" stroke-width="0.9"/>
<line x1="432.40" y1="155.00" x2="432.40" y2="168.00" stroke="#1c1c1c" stroke-width="1.25" />
<line x1="433.00" y1="162.00" x2="452.50" y2="162.00" stroke="#909090" stroke-width="1.3" />
<polyline points="436.60,158.60 432.90,162.00 436.60,165.40" fill="none" stroke="#1c1c1c" stroke-width="1.2"/>
<text x="444.50" y="160.00" font-size="12" text-anchor="middle" fill="#111"  >1</text>
<line x1="432.00" y1="601.00" x2="432.00" y2="614.00" stroke="#1c1c1c" stroke-width="1.25" />
<line x1="432.60" y1="607.60" x2="452.50" y2="607.60" stroke="#909090" stroke-width="1.3" />
<polyline points="436.20,604.20 432.50,607.60 436.20,611.00" fill="none" stroke="#1c1c1c" stroke-width="1.2"/>
<text x="444.80" y="619.60" font-size="12" text-anchor="middle" fill="#111"  >1</text>
<line x1="189.50" y1="385.10" x2="203.00" y2="385.10" stroke="#1c1c1c" stroke-width="1.25" />
<line x1="197.40" y1="385.60" x2="197.40" y2="404.60" stroke="#909090" stroke-width="1.4" />
<polyline points="193.90,389.40 197.40,385.60 200.90,389.40" fill="none" stroke="#1c1c1c" stroke-width="1.2"/>
<text x="190.00" y="403.00" font-size="12" text-anchor="middle" fill="#111"  >2</text>
<line x1="723.10" y1="385.20" x2="737.10" y2="385.20" stroke="#1c1c1c" stroke-width="1.25" />
<line x1="728.90" y1="385.60" x2="728.90" y2="404.60" stroke="#909090" stroke-width="1.4" />
<polyline points="725.40,389.40 728.90,385.60 732.40,389.40" fill="none" stroke="#1c1c1c" stroke-width="1.2"/>
<text x="736.10" y="402.90" font-size="12" text-anchor="middle" fill="#111"  >2</text>
<rect x="207.20" y="465.40" width="5.90" height="14.60" fill="#fff" stroke="#111" stroke-width="1.1" />
<rect x="218.80" y="494.30" width="5.70" height="12.90" fill="#fff" stroke="#111" stroke-width="1.1" />
<text x="143.70" y="449.60" font-size="10.5" text-anchor="start" fill="#111"  >Входной щит</text>
<text x="143.70" y="460.70" font-size="10.5" text-anchor="start" fill="#111"  >учета</text>
<polyline points="143.70,452.30 206.40,452.30 210.50,464.60" fill="none" stroke="#333" stroke-width="0.8"/>
<text x="232.40" y="504.00" font-size="10.5" text-anchor="start" fill="#111"  >Распред. щит</text>
<polyline points="224.50,502.20 231.30,509.60 299.80,509.60" fill="none" stroke="#333" stroke-width="0.8"/>
<text x="223.60" y="531.80" font-size="12.8" text-anchor="start" fill="#111"  >Д1</text>
<text x="230.60" y="609.60" font-size="12.8" text-anchor="start" fill="#111"  >Д3</text>
<text x="267.20" y="609.60" font-size="12.8" text-anchor="start" fill="#111"  >Д2</text>
<text x="356.00" y="609.90" font-size="12.8" text-anchor="start" fill="#111"  >Д2</text>
<text x="410.40" y="207.00" font-size="12.4" text-anchor="start" fill="#111"  >ОК-1</text>
<text x="668.70" y="233.00" font-size="12.4" text-anchor="start" fill="#111"  >ОК-1</text>
<text x="668.70" y="310.00" font-size="12.4" text-anchor="start" fill="#111"  >ОК-3</text>
<text x="668.70" y="393.80" font-size="12.4" text-anchor="start" fill="#111"  >ОК-1</text>
<text x="668.70" y="467.00" font-size="12.4" text-anchor="start" fill="#111"  >ОК-3</text>
<text x="668.70" y="549.60" font-size="12.4" text-anchor="start" fill="#111"  >ОК-1</text>
<text x="421.20" y="580.00" font-size="12.4" text-anchor="start" fill="#111"  >ОК-2</text>
<text x="486.70" y="580.00" font-size="12.4" text-anchor="start" fill="#111"  >ОК-3</text>
<text x="567.00" y="580.00" font-size="12.4" text-anchor="start" fill="#111"  >ОК-1</text>
<text x="640.70" y="580.00" font-size="12.4" text-anchor="start" fill="#111"  >ОК-3</text>
<circle cx="237.00" cy="205.90" r="10.60" fill="none" stroke="#1c1c1c" stroke-width="0.9"/>
<text x="237.00" y="210.40" font-size="12.5" text-anchor="middle" fill="#111"  >7</text>
<circle cx="303.50" cy="234.50" r="10.60" fill="none" stroke="#1c1c1c" stroke-width="0.9"/>
<text x="303.50" y="239.00" font-size="12.5" text-anchor="middle" fill="#111"  >8</text>
<circle cx="228.80" cy="290.75" r="10.60" fill="none" stroke="#1c1c1c" stroke-width="0.9"/>
<text x="228.80" y="295.25" font-size="12.5" text-anchor="middle" fill="#111"  >10</text>
<circle cx="228.80" cy="326.90" r="10.60" fill="none" stroke="#1c1c1c" stroke-width="0.9"/>
<text x="228.80" y="331.40" font-size="12.5" text-anchor="middle" fill="#111"  >11</text>
<circle cx="228.80" cy="371.70" r="10.60" fill="none" stroke="#1c1c1c" stroke-width="0.9"/>
<text x="228.80" y="376.20" font-size="12.5" text-anchor="middle" fill="#111"  >12</text>
<circle cx="228.80" cy="411.60" r="10.60" fill="none" stroke="#1c1c1c" stroke-width="0.9"/>
<text x="228.80" y="416.10" font-size="12.5" text-anchor="middle" fill="#111"  >13</text>
<circle cx="238.70" cy="448.50" r="10.60" fill="none" stroke="#1c1c1c" stroke-width="0.9"/>
<text x="238.70" y="453.00" font-size="12.5" text-anchor="middle" fill="#111"  >14</text>
<circle cx="287.70" cy="349.85" r="10.60" fill="none" stroke="#1c1c1c" stroke-width="0.9"/>
<text x="287.70" y="354.35" font-size="12.5" text-anchor="middle" fill="#111"  >5</text>
<circle cx="183.80" cy="529.70" r="10.60" fill="none" stroke="#1c1c1c" stroke-width="0.9"/>
<text x="183.80" y="534.20" font-size="12.5" text-anchor="middle" fill="#111"  >3</text>
<circle cx="183.80" cy="576.70" r="10.60" fill="none" stroke="#1c1c1c" stroke-width="0.9"/>
<text x="183.80" y="581.20" font-size="12.5" text-anchor="middle" fill="#111"  >6</text>
<circle cx="288.00" cy="528.70" r="10.60" fill="none" stroke="#1c1c1c" stroke-width="0.9"/>
<text x="288.00" y="533.20" font-size="12.5" text-anchor="middle" fill="#111"  >4</text>
<circle cx="231.70" cy="567.20" r="10.60" fill="none" stroke="#1c1c1c" stroke-width="0.9"/>
<text x="231.70" y="571.70" font-size="12.5" text-anchor="middle" fill="#111"  >15</text>
<circle cx="506.85" cy="361.70" r="10.60" fill="none" stroke="#1c1c1c" stroke-width="0.9"/>
<text x="506.85" y="366.20" font-size="12.5" text-anchor="middle" fill="#111"  >1</text>
<circle cx="646.25" cy="159.50" r="10.60" fill="none" stroke="#1c1c1c" stroke-width="0.9"/>
<text x="646.25" y="164.00" font-size="12.5" text-anchor="middle" fill="#111"  >2</text>
<circle cx="194.40" cy="251.70" r="10.40" fill="#fff" stroke="#1c1c1c" stroke-width="0.9"/>
<text x="194.40" y="256.20" font-size="12.5" text-anchor="middle" fill="#111"  >9</text>
<line x1="204.80" y1="252.20" x2="222.20" y2="255.20" stroke="#1c1c1c" stroke-width="0.8" />
<rect x="260.40" y="200.10" width="12.00" height="12.00" fill="#fff" stroke="#1c1c1c" stroke-width="0.9" />
<text x="266.10" y="209.70" font-size="10" text-anchor="middle" fill="#111" font-style="italic" >1</text>
<rect x="297.40" y="249.70" width="12.00" height="12.00" fill="#fff" stroke="#1c1c1c" stroke-width="0.9" />
<text x="303.10" y="259.30" font-size="10" text-anchor="middle" fill="#111" font-style="italic" >1</text>
<rect x="236.40" y="233.50" width="12.00" height="12.00" fill="#fff" stroke="#1c1c1c" stroke-width="0.9" />
<text x="242.10" y="243.10" font-size="10" text-anchor="middle" fill="#111" font-style="italic" >1</text>
<rect x="241.60" y="290.20" width="12.00" height="12.00" fill="#fff" stroke="#1c1c1c" stroke-width="0.9" />
<text x="247.30" y="299.80" font-size="10" text-anchor="middle" fill="#111" font-style="italic" >1</text>
<rect x="241.60" y="326.30" width="12.00" height="12.00" fill="#fff" stroke="#1c1c1c" stroke-width="0.9" />
<text x="247.30" y="335.90" font-size="10" text-anchor="middle" fill="#111" font-style="italic" >1</text>
<rect x="241.60" y="370.90" width="12.00" height="12.00" fill="#fff" stroke="#1c1c1c" stroke-width="0.9" />
<text x="247.30" y="380.50" font-size="10" text-anchor="middle" fill="#111" font-style="italic" >1</text>
<rect x="241.60" y="411.00" width="12.00" height="12.00" fill="#fff" stroke="#1c1c1c" stroke-width="0.9" />
<text x="247.30" y="420.60" font-size="10" text-anchor="middle" fill="#111" font-style="italic" >1</text>
<rect x="232.40" y="468.30" width="12.00" height="12.00" fill="#fff" stroke="#1c1c1c" stroke-width="0.9" />
<text x="238.10" y="477.90" font-size="10" text-anchor="middle" fill="#111" font-style="italic" >1</text>
<rect x="281.50" y="367.20" width="12.00" height="12.00" fill="#fff" stroke="#1c1c1c" stroke-width="0.9" />
<text x="287.20" y="376.80" font-size="10" text-anchor="middle" fill="#111" font-style="italic" >1</text>
<rect x="281.00" y="548.20" width="12.00" height="12.00" fill="#fff" stroke="#1c1c1c" stroke-width="0.9" />
<text x="286.70" y="557.80" font-size="10" text-anchor="middle" fill="#111" font-style="italic" >1</text>
<rect x="243.60" y="576.60" width="12.00" height="12.00" fill="#fff" stroke="#1c1c1c" stroke-width="0.9" />
<text x="249.30" y="586.20" font-size="10" text-anchor="middle" fill="#111" font-style="italic" >1</text>
<rect x="500.10" y="414.30" width="12.00" height="12.00" fill="#fff" stroke="#1c1c1c" stroke-width="0.9" />
<text x="505.80" y="423.90" font-size="10" text-anchor="middle" fill="#111" font-style="italic" >1</text>
<rect x="488.40" y="387.20" width="35.20" height="13.40" fill="#fff" stroke="#d8d8d8" stroke-width="1" />
<text x="505.60" y="397.80" font-size="10.1" text-anchor="middle" fill="#111"  >0.000</text>
</svg>
</body></html>
